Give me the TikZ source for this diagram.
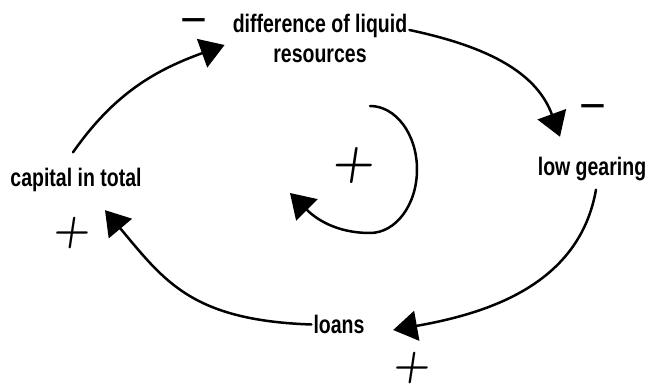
\documentclass[tikz,border=0pt]{standalone}
\usepackage{fontspec}
\newfontfamily\labelfont{Liberation Sans}
\usetikzlibrary{arrows.meta}
\tikzstyle{var} = [font=\labelfont\bfseries\fontsize{19.5}{23}\selectfont,
yscale=1.3, inner sep=2pt, align=center]
\tikzstyle{plus} = [font=\bfseries\fontsize{42}{42}\selectfont, xslant=0.15,
inner sep=0pt]
\tikzstyle{minus} = [font=\labelfont\fontsize{46}{46}\selectfont, inner
sep=0pt]
\tikzstyle{arrow} = [line width=2.5pt, line cap=round,
-{Triangle[length=24pt,width=30pt]}]

\begin{document}
\begin{tikzpicture}[x=1pt, y=1pt]
              \useasboundingbox (0,0) rectangle (649,388);
              \node (diff) [var] at (320,350) {difference of liquid\\resources};
              \node (cap) [var] at (76,208) {capital in total};
              \node (gear) [var] at (592,219) {low gearing};
              \node (loans) [var] at (339,63.5) {loans};

              \node (mdiff) [minus] at (194,361) {−};
              \node (mgear) [minus] at (593,275) {−};
              \node (pcap) [plus] at (72,155) {+};
              \node (ploans) [plus] at (412,20) {+};
              \node (ploop) [plus, font=\bfseries\fontsize{48}{48}\selectfont] at
              (354,222) {+};

              \coordinate (loop) at (370,282);
              \coordinate (looptip) at (290,195);

              \draw [arrow] ([xshift=-3pt,yshift=13pt]cap.north) to[out=55,in=200]
              ([xshift=-6pt,yshift=-7pt]diff.west);
              \draw [arrow] ([yshift=8pt]diff.east) to[out=-12,in=110]
              ([xshift=-32pt,yshift=17.5pt]gear.north);
              \draw [arrow] ([xshift=4pt,yshift=-6pt]gear.south) to[out=-100,in=10]
              ([xshift=26.5pt,yshift=-5.5pt]loans.east);
              \draw [arrow] (loans.west) to[out=178,in=-50,out looseness=1.3]
              ([xshift=29pt,yshift=-15.5pt]cap.south);
              \draw [arrow] (loop) arc[start angle=90, end angle=-90, x
              radius=47pt, y radius=63.5pt] to[out=180,in=-45] (looptip);
            \end{tikzpicture}
\end{document}
